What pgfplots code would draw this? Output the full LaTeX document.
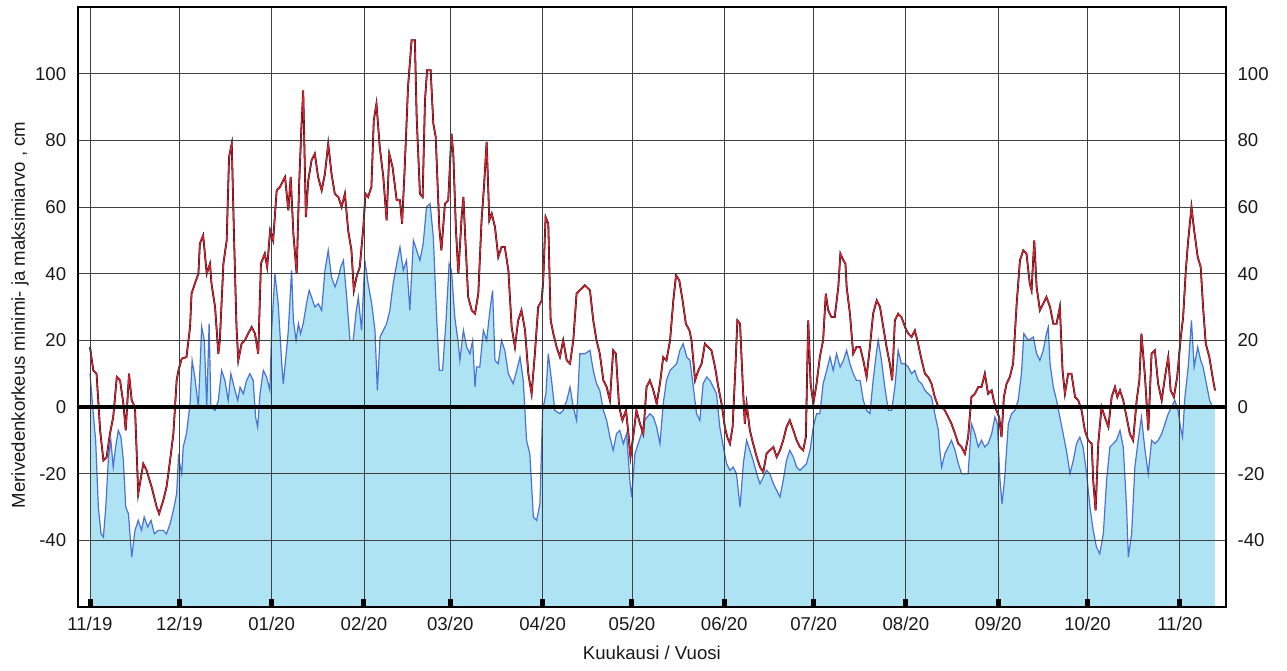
\documentclass[border=0pt]{standalone}
\usepackage{fontspec}
\setmainfont{Liberation Sans}
\usepackage{pgfplots}
\usepackage{pgfplotstable}
\pgfplotsset{compat=1.18}
\usepgfplotslibrary{fillbetween}
\definecolor{fillblue}{HTML}{AEE3F3}
\definecolor{minblue}{HTML}{4A72D6}
\definecolor{maxred}{HTML}{E02030}
\newcommand{\chartfont}{\fontsize{9.3}{11}\selectfont}

\pgfplotstableread{
d v
0.0 18
1.1 11
2.2 10
3.4 -7
4.5 -16
5.6 -15
6.7 -8
7.8 -3
9.0 9
10.1 8
11.2 1
12.0 -7
13.1 10
14.0 2
15.1 0
16.2 -26
17.9 -17
19.0 -19
20.7 -24
22.4 -30
23.2 -32
24.6 -28
25.7 -24
26.9 -16
28.0 -8
29.1 8
29.7 11
30.8 14.5
32.4 15
33.6 24
34.1 34
35.2 37
36.4 40
36.9 49
38.0 51.5
39.2 40
40.3 43
40.8 37
42.0 30
43.1 16
43.6 20
44.8 43
45.9 50
46.7 75
47.6 79
48.4 50
49.2 24
49.8 14
50.9 19
52.0 20
53.1 22
54.3 24
55.4 22
56.5 16
57.4 43
58.7 46
59.5 42
60.5 53
61.5 50
62.7 65
63.8 66
64.9 68
65.5 69
66.6 59
67.4 69
68.3 52
69.4 40
70.2 66
71.0 84
71.6 95
72.5 57
73.3 68
74.4 74
75.5 76
76.6 69
77.8 65
78.9 70
80.0 79
81.1 70
82.2 64
83.4 63
84.5 60
85.6 64
86.7 53
87.8 47
88.6 35
89.5 39
90.6 42
91.8 54
92.5 64
93.4 63
94.5 66
95.3 86
96.2 91
97.3 78
98.5 69
99.6 56
100.5 76
101.6 72
103.0 62
104.1 62
104.8 55
105.7 72
106.8 96
108.0 110
109.1 110
109.7 87
110.8 64
111.7 63
112.5 92
113.2 101
114.4 101
115.3 85
116.1 81
117.3 54
118.0 47
119.2 61
120.3 62
121.4 82
122.0 76
122.9 53
123.7 40
124.8 57
125.4 63
125.9 53
127.0 33
128.2 29
129.3 28
130.4 34
131.5 56
132.3 66
133.2 79.5
134.1 56
134.9 58
136.0 54
137.1 45
138.2 48
139.3 48
140.5 41
141.6 24
142.7 18
143.8 26
144.9 29
146.1 23
147.2 10
148.3 4
149.4 16
150.5 30
151.7 32
152.2 38
153.0 57
153.9 55
154.7 26
155.6 22
156.7 18
157.8 15
158.9 20
160.1 14
161.2 13
162.3 20
163.4 34
164.5 35
166.2 36.5
167.9 35
169.0 26
170.1 20
171.2 16
172.4 8
173.5 6
174.6 2
175.7 17
176.6 16
177.7 0
178.8 -4
180.0 -1
180.7 -7
181.5 -15
182.4 -9
183.5 -1
184.7 -5
185.8 -8
186.9 6
188.0 8
189.2 5
190.3 1
191.4 7
192.5 15
193.6 14
194.8 20
195.9 32
196.8 39.5
197.9 38
199.0 32
200.1 25
201.3 23
202.0 20
203.2 8
204.3 11
205.4 13
206.5 19
207.6 18
208.7 17
209.9 12
211.0 6
212.1 1
213.2 -6
214.0 -9
214.9 -11
215.8 -6
216.6 9
217.4 26
218.3 25
219.2 7
219.9 -5
220.5 1
221.6 -7
222.7 -11
223.9 -15
225.0 -18
226.1 -19.5
227.2 -14
228.3 -13
229.5 -12
230.6 -15
231.7 -13
232.8 -10
233.9 -6
235.0 -4
236.2 -7
237.3 -10
238.4 -12
239.5 -13
240.4 -9
241.2 26
242.0 7
242.9 1
244.0 7
245.1 15
246.2 20
247.1 34
247.9 29
249.0 27
250.1 27
251.3 36
252.0 46
253.0 44
253.7 43
254.1 36
255.2 28
256.3 16
257.4 18
258.6 18
259.7 14
260.8 9
261.9 18
263.0 28
264.2 32
265.3 30
266.4 24
267.5 18
268.6 13
269.4 8
270.3 26
271.4 28
272.5 27
273.7 24
274.8 22
275.9 21
277.0 23
278.1 19
279.3 14
280.4 10
281.5 9
282.6 7
283.7 3
284.9 0
286.0 0
287.1 -1
288.2 -3
289.3 -5
290.5 -8
291.6 -11
292.7 -12
293.8 -14
294.9 -9
296.0 3
297.2 4
298.3 6
299.4 6
300.5 10
301.6 4
302.8 5
303.5 2
304.4 -1
305.3 -3
306.1 -9
306.9 3
307.8 7
308.9 9
310.0 13
311.2 31
312.3 44
313.4 47
314.5 46
315.6 37
316.2 35
317.1 50
317.9 36
319.0 29
320.1 31
321.2 33
322.4 30
323.5 25
324.6 25
325.7 30
326.6 11
327.4 4
328.5 10
329.6 10
330.8 3
331.9 2
333.0 -1
334.1 -7
335.2 -10
336.4 -11
336.9 -22
337.7 -31
338.6 -11
339.7 0
340.8 -3
342.0 -6
343.1 3
344.2 6
345.0 3
345.9 5
347.0 2
348.1 -3
349.2 -8
350.3 -10
351.5 2
352.4 8
353.1 22
354.3 9
355.4 -7
356.5 16
357.6 17
358.7 7
359.9 2
361.0 9
362.1 15
362.9 5
364.0 3
365.1 9
366.2 20
367.1 27
368.0 41
368.8 50
369.9 60
370.8 53
372.0 45
373.0 42
373.8 30
374.7 19
375.9 15
377.0 9
377.8 5
}\maxdata

\pgfplotstableread{
d v
0.0 10
1.1 -2
1.9 -10
2.8 -30
3.7 -38
4.5 -39
5.3 -30
6.2 -15
7.0 -10
7.8 -18
8.6 -12
9.5 -7
10.4 -9
11.2 -16
12.0 -30
12.9 -32
14.0 -45
15.1 -37
16.2 -34
17.3 -37
18.2 -33
19.4 -36
20.5 -34
21.6 -38
23.0 -37
24.6 -37
25.7 -38
26.9 -35
28.0 -31
29.1 -26
29.7 -15
30.8 -20
31.3 -12
32.4 -8
33.6 1
34.3 14
35.2 9
36.4 0
37.5 24
38.4 20
39.2 0
40.0 25
40.6 0
42.0 -1
43.1 2
44.2 11
45.3 8
46.4 2
47.3 10
48.4 6
49.6 2
50.4 6
51.5 4
52.6 8
53.7 10
54.8 8
55.6 -3
56.3 -6
57.1 4
58.2 11
59.3 9
60.4 5
61.0 23
62.1 40
63.2 31
64.4 13
64.9 7
66.0 17
66.6 23
67.7 41
68.3 26
69.2 20
70.0 25
70.7 22
71.6 25
72.7 31
73.6 35
74.4 33
75.5 30
76.7 31
77.8 29
78.9 41
80.0 47
81.1 39
82.3 36
83.4 39
84.2 42
85.1 44
86.2 33
87.3 20
88.4 20
89.3 28
90.1 33
91.2 23
92.3 44
93.4 37
94.6 31
95.7 23
96.5 5
97.4 21
98.5 23
99.6 25
100.7 29
101.8 37
103.0 43
104.1 48
105.2 41
106.3 44
107.4 29
108.6 50
109.7 47
110.8 44
111.9 49
113.0 60
114.2 61
115.3 51
116.4 27
117.3 11
118.4 11
119.5 25
120.6 43
121.4 41
122.5 27
123.7 19
124.2 14
125.4 23
126.5 18
127.6 16
128.5 20
129.3 6
129.8 12
130.9 12
132.1 23
133.2 20
134.3 29
135.2 35
136.0 14
137.1 13
138.2 20
139.3 17
140.5 10
142.1 7
143.3 11
144.4 15
145.5 8
146.6 -10
147.7 -14
148.9 -33
150.0 -34
151.1 -29
152.0 -1
153.1 4
153.9 16
155.0 8
156.1 -1
157.8 -2
158.9 -1
160.1 2
161.2 6
162.3 0
163.4 -4
164.5 16
166.2 16
167.9 17
169.0 11
170.1 7
171.2 5
172.4 -1
173.5 -4
174.6 -9
175.7 -13
176.8 -8
177.9 -7
179.1 -11
180.2 -8
181.3 -22
181.9 -27
183.0 -14
184.1 -11
185.2 -8
186.3 -4
188.0 -2
189.2 -3
190.3 -6
191.4 -11
192.5 1
193.6 8
194.8 11
195.9 12
197.0 13
198.1 17
199.2 19
200.4 15
201.5 14
202.6 6
203.7 -2
204.8 -4
205.9 7
207.1 9
208.2 8
209.3 6
210.4 4
211.5 -6
212.7 -12
213.8 -17
214.9 -19
216.0 -18
217.1 -20
218.3 -30
219.4 -17
220.5 -10
221.6 -13
222.7 -16
223.9 -20
225.0 -23
226.1 -21
227.2 -19
228.3 -20
229.5 -23
230.6 -25
231.7 -27
232.8 -22
233.9 -16
235.0 -13
236.2 -15
237.3 -18
238.4 -19
239.5 -18
240.6 -17
241.8 -13
242.9 -6
244.0 -2
245.1 -2
246.2 7
247.4 11
248.5 15
249.6 11
250.7 16
251.9 12
253.0 14
254.1 17
255.2 13
256.3 10
257.4 8
258.6 8
259.7 2
260.8 -1
261.9 -2
263.0 8
264.2 17
264.7 20
265.8 14
266.9 6
268.1 -1
269.2 -1
270.3 6
271.4 17
272.5 13
273.7 13
274.8 12
275.9 10
277.0 11
278.1 8
279.3 7
280.4 5
281.5 4
282.6 3
283.7 -2
284.9 -7
285.4 -13
286.0 -18
287.1 -14
288.2 -12
289.3 -10
290.5 -13
291.6 -17
292.7 -20
293.8 -20
294.9 -20
296.0 -5
297.2 -8
298.3 -12
299.4 -10
300.5 -12
301.6 -11
302.8 -8
303.9 -3
304.7 -5
305.6 -22
306.3 -29
307.2 -21
308.4 -5
309.5 -2
310.6 -1
311.7 2
312.8 10
313.6 22
315.1 20
316.8 21
317.9 16
319.0 14
320.1 17
321.2 22
321.8 24
322.4 13
323.5 6
324.6 2
325.7 -3
326.8 -8
327.9 -13
329.1 -20
330.2 -16
331.3 -11
332.4 -9
333.5 -12
334.7 -20
335.8 -30
336.9 -37
338.0 -42
339.1 -44
340.3 -38
341.4 -22
342.5 -12
343.6 -11
344.7 -10
345.9 -7
347.0 -12
348.1 -30
348.7 -45
349.8 -38
350.9 -18
352.0 -10
353.1 -3
354.3 -13
355.4 -20
356.5 -10
357.6 -11
358.7 -10
359.9 -8
361.0 -5
362.1 -2
363.2 0
364.3 2
365.4 -1
366.2 -6
366.9 -9
367.7 3
368.8 12
369.9 26
370.8 12
372.0 18
373.0 14
373.8 12
374.9 7
376.0 2
377.0 0
377.8 0
}\mindata

\begin{document}
\begin{tikzpicture}
\begin{axis}[
  scale only axis,
  width=573.8pt, height=300pt,
  xmin=-4.03, xmax=381.4,
  ymin=-60, ymax=120,
  axis on top,
  axis line style={line width=1pt, black},
  xtick={0,30,61,92,121,152,182,213,243,274,305,335,366},
  xticklabels={11/19,12/19,01/20,02/20,03/20,04/20,05/20,06/20,07/20,08/20,09/20,10/20,11/20},
  xtick pos=lower,
  xtick align=inside,
  xtick style={line width=2.5pt, black},
  major tick length=4pt,
  ytick={-40,-20,0,20,40,60,80,100},
  yticklabels={-40,-20,0,20,40,60,80,100},
  ytick style={draw=none},
  grid=major,
  major grid style={line width=0.45pt, black!75},
  extra y ticks={0},
  extra y tick labels={},
  extra y tick style={grid=major, major grid style={line width=1.6pt, black}, tick style={draw=none}},
  tick label style={font=\chartfont, text=black!90},
  xticklabel style={yshift=-1.5pt},
  yticklabel style={xshift=-2.4pt},
  xlabel={Kuukausi / Vuosi},
  ylabel={Merivedenkorkeus minimi- ja maksimiarvo , cm},
  label style={font=\chartfont, text=black!90},
  xlabel style={at={(axis description cs:0.5,-0.0767)}, anchor=center},
  ylabel style={at={(axis description cs:-0.0505,0.487)}, anchor=center},
  clip=true,
]
\addplot[name path=mn, draw=none] table[x=d, y=v] {\mindata};
\path[name path=bot] (axis cs:0,-60) -- (axis cs:377.8,-60);
\addplot[fill=fillblue, draw=none] fill between[of=mn and bot];
\addplot[minblue, line width=0.6pt] table[x=d, y=v] {\mindata};
\addplot[black, line width=0.9pt] table[x=d, y=v] {\maxdata};
\addplot[maxred, line width=0.6pt] table[x=d, y=v] {\maxdata};
\end{axis}
\begin{axis}[
  scale only axis,
  width=573.8pt, height=300pt,
  xmin=-4.03, xmax=381.4,
  ymin=-60, ymax=120,
  axis x line=none,
  axis y line*=right,
  axis line style={line width=1pt, black},
  ytick={-40,-20,0,20,40,60,80,100},
  yticklabels={-40,-20,0,20,40,60,80,100},
  ytick style={draw=none},
  tick label style={font=\chartfont, text=black!90},
  yticklabel style={xshift=2.4pt},
]
\addplot[draw=none] coordinates {(0,0)};
\end{axis}
\pgfresetboundingbox
\path[use as bounding box] ([xshift=-39pt,yshift=-31.5pt]current axis.south west) rectangle ([xshift=30.65pt,yshift=3.5pt]current axis.north east);
\end{tikzpicture}
\end{document}
